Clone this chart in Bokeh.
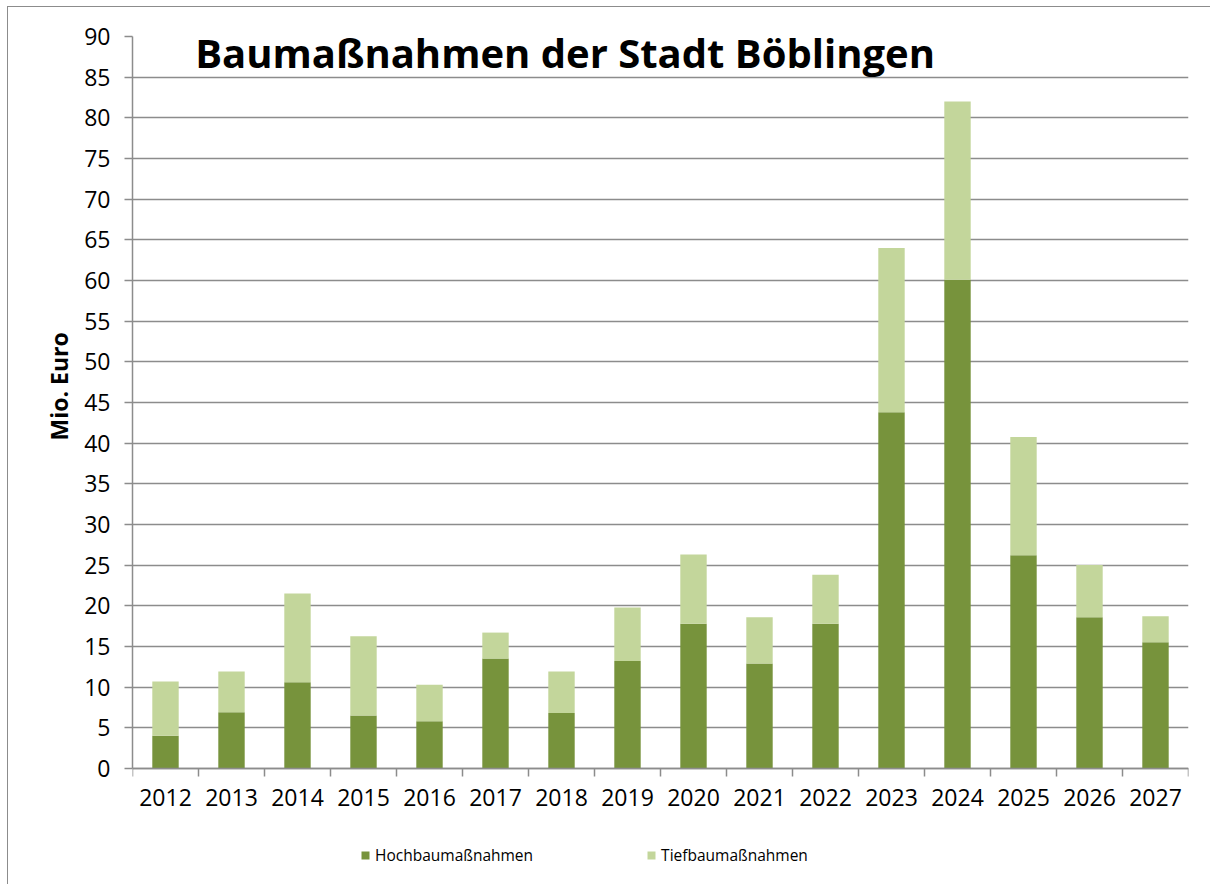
from bokeh.plotting import figure
from bokeh.models import (FactorRange, Range1d, LinearAxis, CategoricalAxis, FixedTicker,
                          Legend, LegendItem, Label, ColumnDataSource)
from bokeh.embed import file_html
from bokeh.resources import INLINE

years = ["2012", "2013", "2014", "2015", "2016", "2017", "2018", "2019",
         "2020", "2021", "2022", "2023", "2024", "2025", "2026", "2027"]
hochbau = [4.0, 6.9, 10.6, 6.5, 5.8, 13.5, 6.8, 13.2, 17.8, 12.9, 17.8, 43.8, 60.1, 26.2, 18.6, 15.5]
tiefbau = [6.7, 5.0, 10.9, 9.75, 4.5, 3.2, 5.1, 6.6, 8.5, 5.7, 6.0, 20.2, 21.9, 14.55, 6.4, 3.2]
y_ticks = list(range(0, 91, 5))
series_names = ["Hochbaumaßnahmen", "Tiefbaumaßnahmen"]
colors = ["#77933C", "#C3D69B"]
title_text = "Baumaßnahmen der Stadt Böblingen"
y_label = "Mio. Euro"

FONT = "Open Sans"
GRID = "#8c8c8c"

src = ColumnDataSource(dict(year=years, hochbau=hochbau, tiefbau=tiefbau))

# the frame reaches down to the bottom edge so that the legend below the axis is not clipped
p = figure(width=1203, height=878, x_range=FactorRange(*years), y_range=Range1d(-14.4, 90),
           x_axis_location=None, output_backend="svg", toolbar_location=None,
           min_border_left=124, min_border_right=23, min_border_top=29, min_border_bottom=0)
p.outline_line_color = None
p.background_fill_color = "white"
p.border_fill_color = "white"
p.styles = {"border-top": "1px solid #8c8c8c", "border-left": "1px solid #8c8c8c",
            "margin-left": "7px", "margin-top": "6px"}

renderers = p.vbar_stack(["hochbau", "tiefbau"], x="year", width=0.4, color=colors,
                         line_color=None, source=src)

# y axis
yax = p.yaxis[0]
yax.ticker = FixedTicker(ticks=y_ticks)
yax.bounds = (0, 90)
yax.major_tick_out = 8
yax.major_tick_in = 0
yax.minor_tick_line_color = None
yax.axis_line_color = GRID
yax.axis_line_width = 1.5
yax.major_tick_line_color = GRID
yax.major_tick_line_width = 1.5
yax.major_label_text_font = FONT
yax.major_label_text_font_size = "23px"
yax.major_label_text_color = "black"
yax.major_label_standoff = 14
# leading no-break spaces lift the label to the middle of the 0..90 axis (the frame is taller)
yax.axis_label = "\u00a0" * 25 + y_label
yax.axis_label_text_font = FONT
yax.axis_label_text_font_style = "bold"
yax.axis_label_text_font_size = "23px"
yax.axis_label_text_color = "black"
yax.axis_label_standoff = 6

p.ygrid.ticker = FixedTicker(ticks=y_ticks)
p.ygrid.grid_line_color = GRID
p.ygrid.grid_line_width = 1.5
p.xgrid.visible = False

# x axis at y = 0: ticks at category boundaries (synthetic coordinates) + category labels
tick_axis = LinearAxis(ticker=FixedTicker(ticks=list(range(len(years) + 1))), fixed_location=0,
                       major_tick_out=8, major_tick_in=0, minor_tick_line_color=None,
                       axis_line_color=GRID, axis_line_width=1.5,
                       major_tick_line_color=GRID, major_tick_line_width=1.5,
                       major_label_text_color=None, major_label_text_font_size="8px",
                       major_label_standoff=0)
label_axis = CategoricalAxis(fixed_location=0, axis_line_color=None, major_tick_line_color=None,
                             major_tick_out=0, major_tick_in=0, minor_tick_line_color=None,
                             major_label_text_font=FONT, major_label_text_font_size="23px",
                             major_label_text_color="black", major_label_standoff=21)
p.add_layout(tick_axis, "below")
p.add_layout(label_axis, "below")

# title inside plot area
p.add_layout(Label(x=0.95, y=88.0, text=title_text, text_font=FONT,
                   text_font_style="bold", text_font_size="40px", text_baseline="middle",
                   text_color="black"))

legend = Legend(items=[LegendItem(label=series_names[0], renderers=[renderers[0]]),
                       LegendItem(label=series_names[1], renderers=[renderers[1]])],
                orientation="horizontal", location=(228, 19), spacing=113,
                label_text_font=FONT, label_text_font_size="15.5px", label_text_color="black",
                glyph_width=10, glyph_height=10, label_standoff=5, padding=0, margin=0,
                border_line_color=None, background_fill_alpha=0)
p.add_layout(legend, "center")

open("out.html", "w").write(file_html(p, INLINE, "Baumaßnahmen"))
